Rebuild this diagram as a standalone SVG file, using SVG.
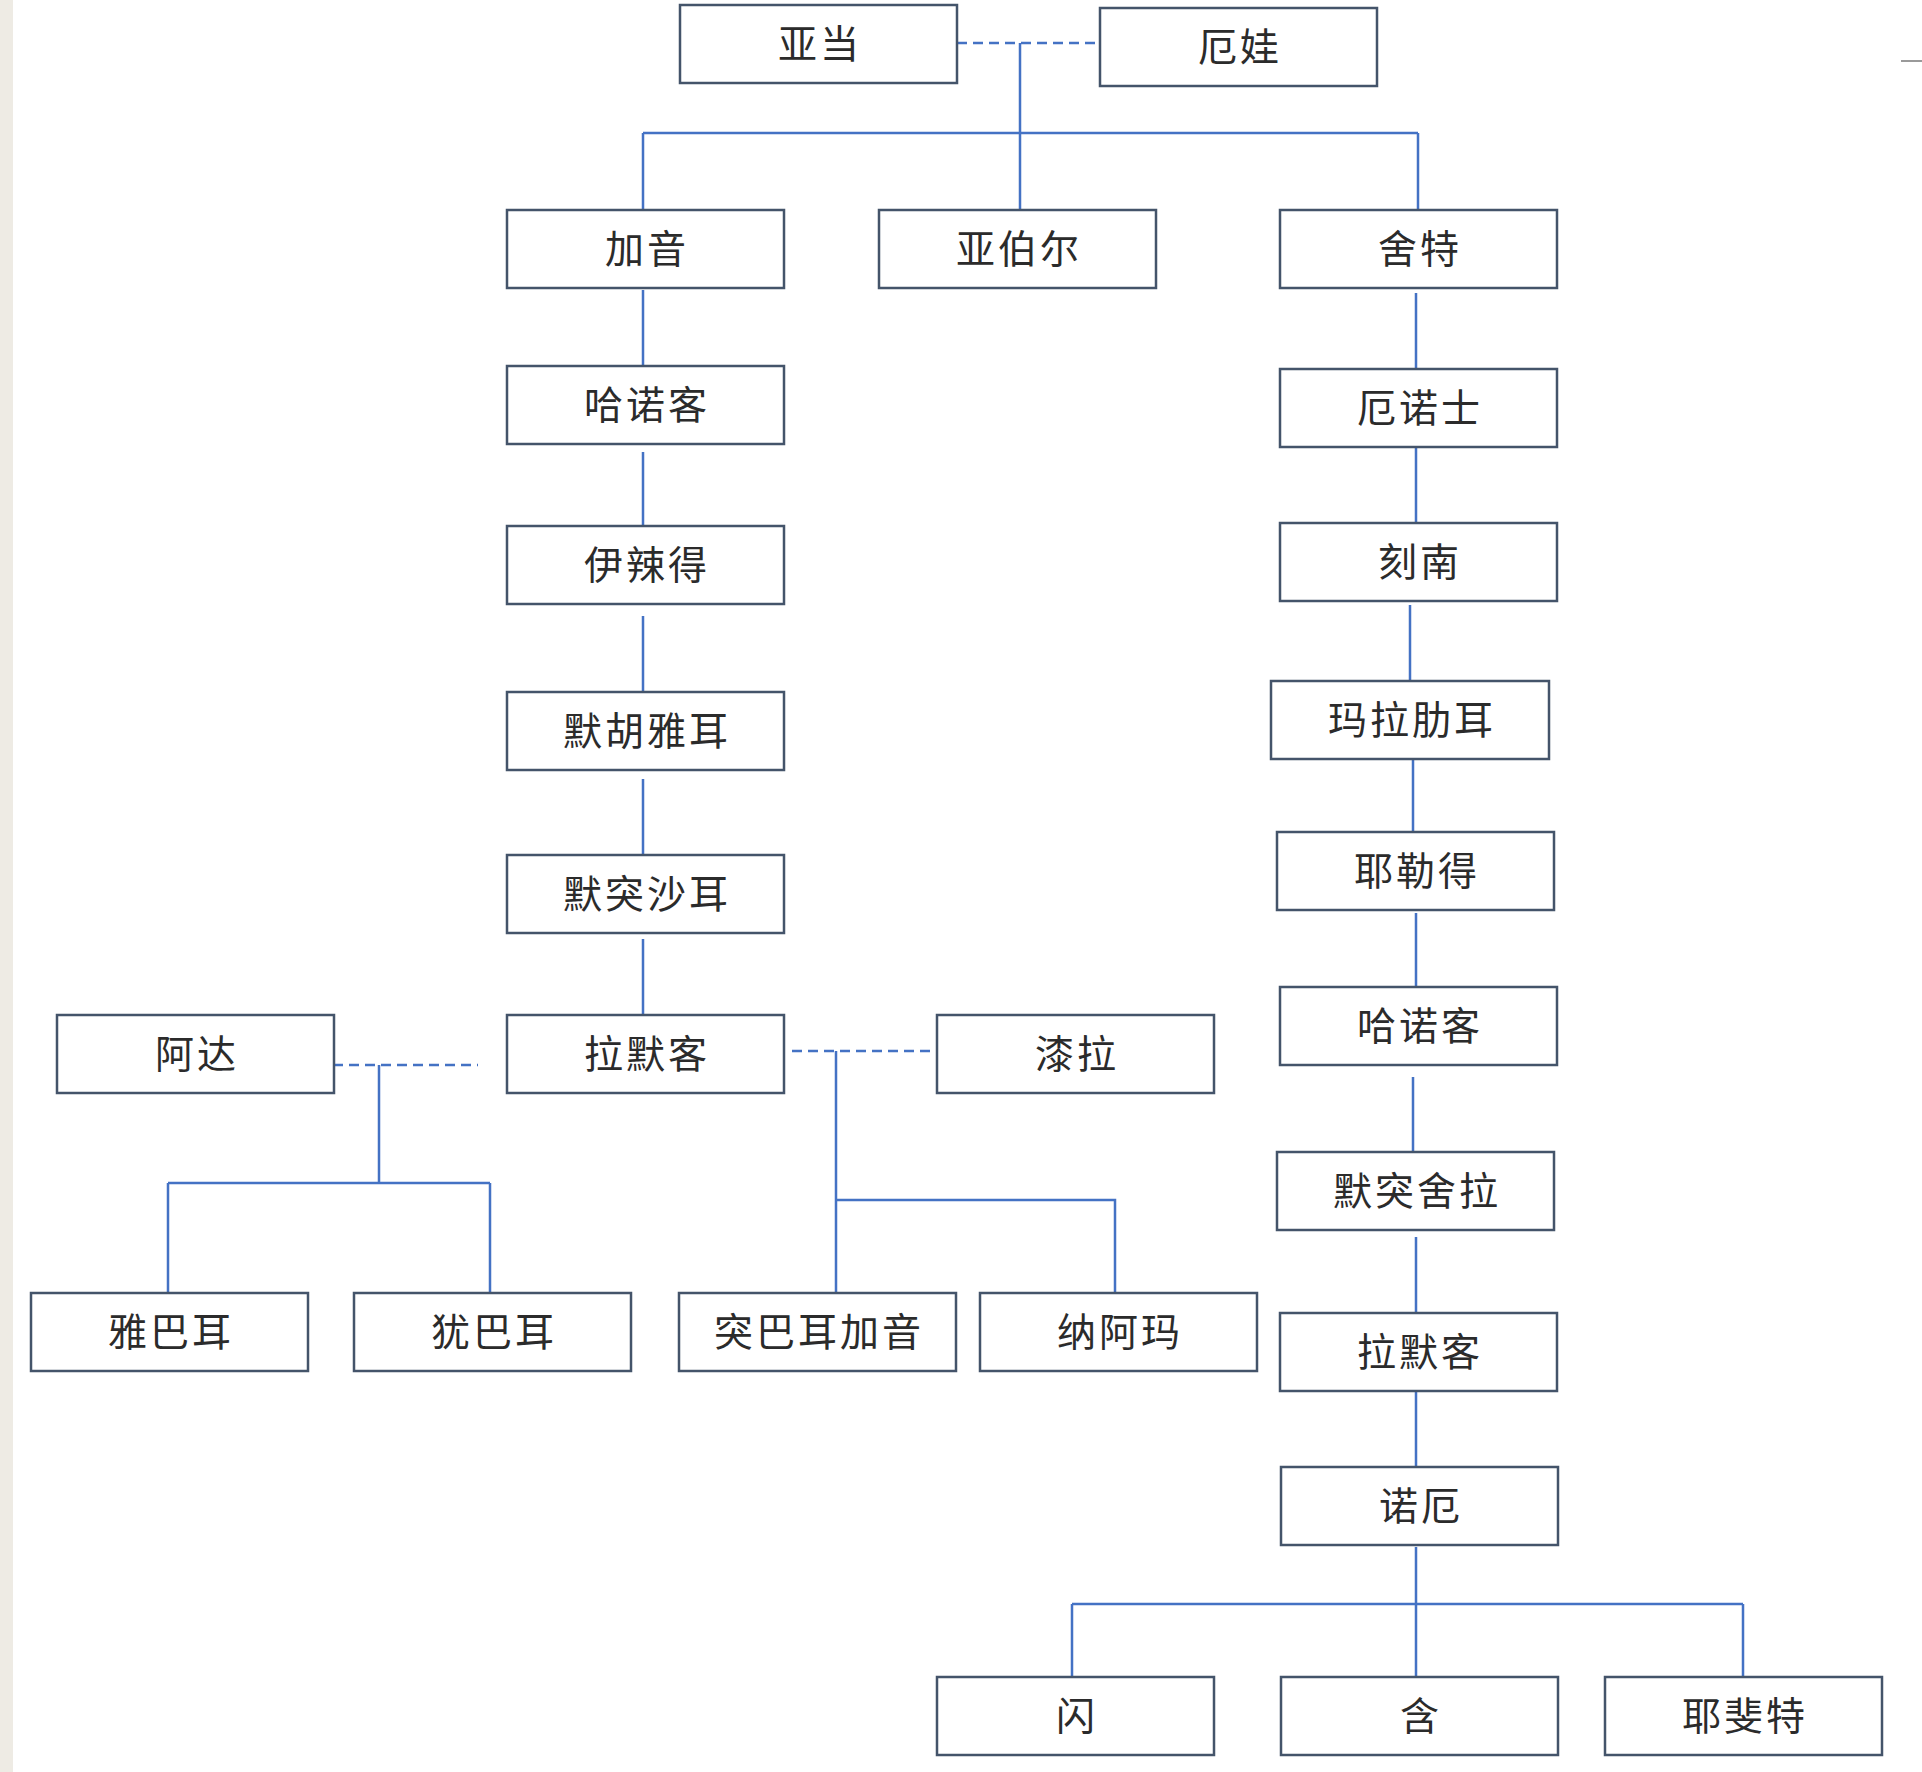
<svg xmlns="http://www.w3.org/2000/svg" width="1922" height="1772" viewBox="0 0 1922 1772">
<style>
.box{fill:#fff;stroke:#44546A;stroke-width:2.5}
.lbl{font-family:"Noto Sans CJK SC","Noto Sans",sans-serif;font-size:39px;fill:#2b2b2b;text-anchor:middle;letter-spacing:3px}
.ln{fill:none;stroke:#4472C4;stroke-width:2.5}
.dash{fill:none;stroke:#4472C4;stroke-width:2.5;stroke-dasharray:10 6}
</style>
<rect x="0" y="0" width="1922" height="1772" fill="#fff"/>
<rect x="0" y="0" width="13" height="1772" fill="#EEEBE4"/>
<line x1="1901" y1="61" x2="1922" y2="61" stroke="#9a9a9a" stroke-width="2"/>
<g id="connectors">
<path class="dash" d="M957 43H1099"/>
<path class="ln" d="M1020 43V210M643 133H1418M643 133V210M1418 133V210"/>
<path class="ln" d="M643 290V366M643 452V526M643 616V692M643 779V855M643 939V1015"/>
<path class="ln" d="M1416 293V369M1416 448V523M1410 605V681M1413 760V832M1416 913V987M1413 1077V1152M1416 1237V1313M1416 1391V1467"/>
<path class="dash" d="M333 1065H478"/>
<path class="ln" d="M379 1065V1183M168 1183H490M168 1183V1293M490 1183V1293"/>
<path class="dash" d="M792 1051H937"/>
<path class="ln" d="M836 1051V1293M836 1200H1115V1293"/>
<path class="ln" d="M1416 1547V1677M1072 1604H1743M1072 1604V1677M1743 1604V1677"/>
</g>
<g id="n-adam"><rect class="box" x="680" y="5" width="277" height="78"/><text class="lbl" x="820" y="58">亚当</text></g>
<g id="n-eve"><rect class="box" x="1100" y="8" width="277" height="78"/><text class="lbl" x="1240" y="61">厄娃</text></g>
<g id="n-cain"><rect class="box" x="507" y="210" width="277" height="78"/><text class="lbl" x="647" y="263">加音</text></g>
<g id="n-abel"><rect class="box" x="879" y="210" width="277" height="78"/><text class="lbl" x="1019" y="263">亚伯尔</text></g>
<g id="n-seth"><rect class="box" x="1280" y="210" width="277" height="78"/><text class="lbl" x="1420" y="263">舍特</text></g>
<g id="n-enoch1"><rect class="box" x="507" y="366" width="277" height="78"/><text class="lbl" x="647" y="419">哈诺客</text></g>
<g id="n-enosh"><rect class="box" x="1280" y="369" width="277" height="78"/><text class="lbl" x="1420" y="422">厄诺士</text></g>
<g id="n-irad"><rect class="box" x="507" y="526" width="277" height="78"/><text class="lbl" x="647" y="579">伊辣得</text></g>
<g id="n-kenan"><rect class="box" x="1280" y="523" width="277" height="78"/><text class="lbl" x="1420" y="576">刻南</text></g>
<g id="n-mehujael"><rect class="box" x="507" y="692" width="277" height="78"/><text class="lbl" x="647" y="745">默胡雅耳</text></g>
<g id="n-mahalalel"><rect class="box" x="1271" y="681" width="278" height="78"/><text class="lbl" x="1412" y="734">玛拉肋耳</text></g>
<g id="n-methushael"><rect class="box" x="507" y="855" width="277" height="78"/><text class="lbl" x="647" y="908">默突沙耳</text></g>
<g id="n-jared"><rect class="box" x="1277" y="832" width="277" height="78"/><text class="lbl" x="1417" y="885">耶勒得</text></g>
<g id="n-adah"><rect class="box" x="57" y="1015" width="277" height="78"/><text class="lbl" x="197" y="1068">阿达</text></g>
<g id="n-lamech1"><rect class="box" x="507" y="1015" width="277" height="78"/><text class="lbl" x="647" y="1068">拉默客</text></g>
<g id="n-zillah"><rect class="box" x="937" y="1015" width="277" height="78"/><text class="lbl" x="1077" y="1068">漆拉</text></g>
<g id="n-enoch2"><rect class="box" x="1280" y="987" width="277" height="78"/><text class="lbl" x="1420" y="1040">哈诺客</text></g>
<g id="n-methuselah"><rect class="box" x="1277" y="1152" width="277" height="78"/><text class="lbl" x="1417" y="1205">默突舍拉</text></g>
<g id="n-jabal"><rect class="box" x="31" y="1293" width="277" height="78"/><text class="lbl" x="171" y="1346">雅巴耳</text></g>
<g id="n-jubal"><rect class="box" x="354" y="1293" width="277" height="78"/><text class="lbl" x="494" y="1346">犹巴耳</text></g>
<g id="n-tubalcain"><rect class="box" x="679" y="1293" width="277" height="78"/><text class="lbl" x="819" y="1346">突巴耳加音</text></g>
<g id="n-naamah"><rect class="box" x="980" y="1293" width="277" height="78"/><text class="lbl" x="1120" y="1346">纳阿玛</text></g>
<g id="n-lamech2"><rect class="box" x="1280" y="1313" width="277" height="78"/><text class="lbl" x="1420" y="1366">拉默客</text></g>
<g id="n-noah"><rect class="box" x="1281" y="1467" width="277" height="78"/><text class="lbl" x="1421" y="1520">诺厄</text></g>
<g id="n-shem"><rect class="box" x="937" y="1677" width="277" height="78"/><text class="lbl" x="1077" y="1730">闪</text></g>
<g id="n-ham"><rect class="box" x="1281" y="1677" width="277" height="78"/><text class="lbl" x="1421" y="1730">含</text></g>
<g id="n-japheth"><rect class="box" x="1605" y="1677" width="277" height="78"/><text class="lbl" x="1745" y="1730">耶斐特</text></g>
</svg>
